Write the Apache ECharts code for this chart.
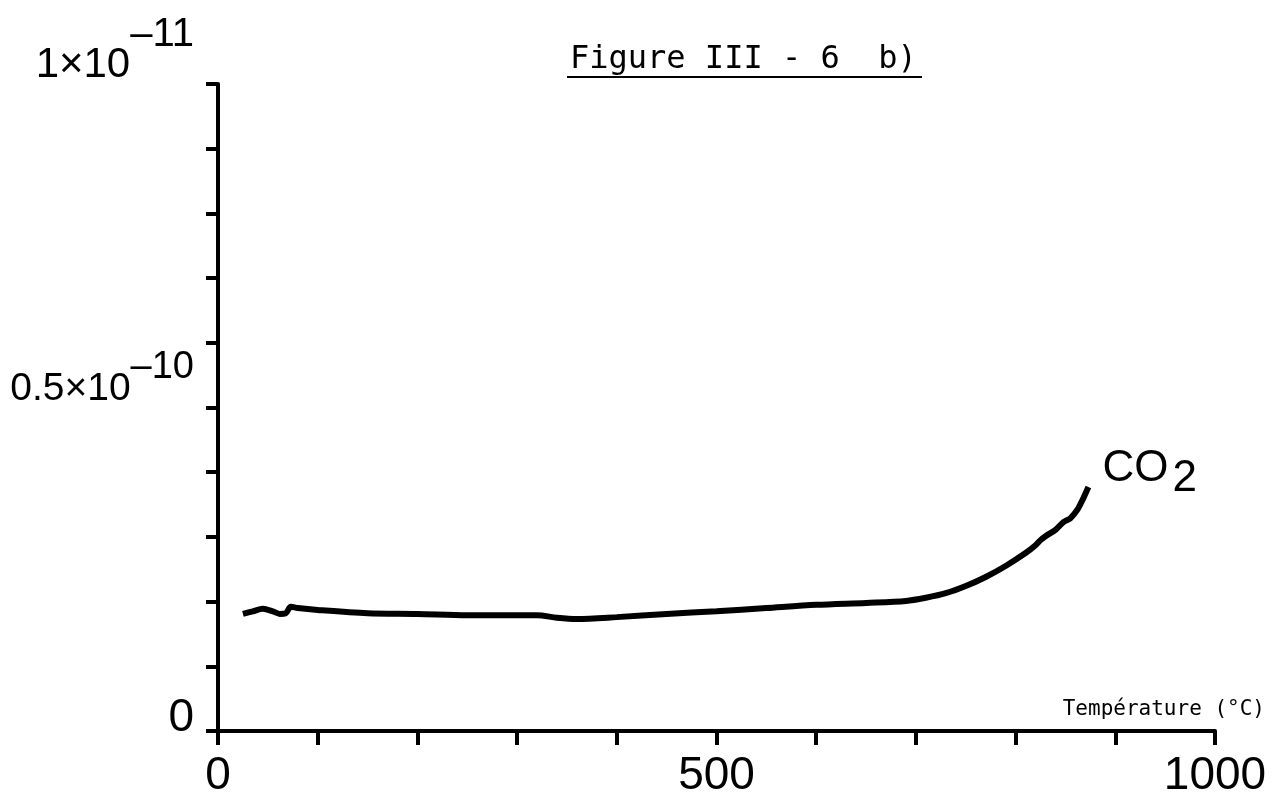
<!DOCTYPE html>
<html>
<head>
<meta charset="utf-8">
<script src="https://cdn.jsdelivr.net/npm/echarts@6/dist/echarts.min.js"></script>
<style>
  html, body { margin: 0; padding: 0; background: #fff; }
  #main { width: 1279px; height: 800px; }
</style>
</head>
<body>
<div id="main"></div>
<script>
// température (°C) et signal (unité 1e-10)
var temps = [25, 35, 45, 55, 62, 68, 73, 80, 100, 150, 200, 250, 300, 320, 340, 360, 400, 450, 500, 550, 600, 650, 690, 710, 730, 750, 770, 790, 810, 820, 825, 830, 840, 848, 855, 862, 868, 873];
var co2 = [0.181, 0.185, 0.189, 0.185, 0.181, 0.182, 0.192, 0.190, 0.187, 0.182, 0.181, 0.179, 0.179, 0.179, 0.175, 0.173, 0.176, 0.181, 0.185, 0.190, 0.195, 0.198, 0.201, 0.206, 0.213, 0.224, 0.238, 0.255, 0.275, 0.287, 0.295, 0.301, 0.311, 0.323, 0.329, 0.342, 0.360, 0.377];

var xTickLabels = { 0: "0", 500: "500", 1000: "1000" };
var yTickLabels = { "0": "{z|0}", "0.5": "{n|0.5×10}{t|–10}", "1": "{m|1×10}{s|–11}" };

var chart = echarts.init(document.getElementById("main"), null, { renderer: "canvas" });

var sans = "'Liberation Sans', Arial, sans-serif";
var mono = "'DejaVu Sans Mono', 'Liberation Mono', monospace";

var data = temps.map(function (t, i) { return [t, co2[i]]; });

var option = {
  backgroundColor: "#fff",
  animation: false,
  title: {
    text: "Figure III - 6  b)",
    left: 570,
    top: 44,
    padding: 0,
    textStyle: { fontFamily: mono, fontSize: 32, fontWeight: "normal", color: "#000" }
  },
  grid: { left: 218, right: 64, top: 84, bottom: 69, outerBoundsMode: "none", containLabel: false },
  xAxis: {
    type: "value",
    min: 0,
    max: 1000,
    interval: 100,
    name: "Température (°C)",
    nameLocation: "end",
    nameGap: 50,
    nameTextStyle: {
      fontFamily: mono, fontSize: 21, color: "#000",
      align: "right", verticalAlign: "bottom", padding: [0, 0, 11, 0]
    },
    axisLine: { lineStyle: { color: "#000", width: 4 } },
    axisTick: { show: true, length: 14, lineStyle: { color: "#000", width: 4 } },
    axisLabel: {
      margin: 22,
      fontFamily: sans,
      fontSize: 46,
      color: "#000",
      formatter: function (v) { return xTickLabels[v] || ""; }
    },
    splitLine: { show: false }
  },
  yAxis: {
    type: "value",
    min: 0,
    max: 1,
    interval: 0.1,
    axisLine: { show: true, lineStyle: { color: "#000", width: 4 } },
    axisTick: { show: true, length: 12, lineStyle: { color: "#000", width: 4 } },
    axisLabel: {
      margin: 24,
      verticalAlign: "middle",
      color: "#000",
      formatter: function (v) {
        var k = String(Math.round(v * 10) / 10);
        return yTickLabels[k] || "";
      },
      rich: {
        m: { fontFamily: sans, fontSize: 42, color: "#000", padding: [0, 0, 38, 0] },
        s: { fontFamily: sans, fontSize: 40, color: "#000", padding: [0, 0, 98, 0] },
        n: { fontFamily: sans, fontSize: 39, color: "#000", padding: [0, 0, 36, 0] },
        t: { fontFamily: sans, fontSize: 38, color: "#000", padding: [0, 0, 80, 0] },
        z: { fontFamily: sans, fontSize: 46, color: "#000", padding: [0, 0, 26, 0] }
      }
    },
    splitLine: { show: false }
  },
  graphic: [
    // soulignement du titre
    {
      type: "line",
      shape: { x1: 567, y1: 77, x2: 922, y2: 77 },
      style: { stroke: "#000", lineWidth: 2 }
    }
  ],
  series: [
    {
      name: "CO2",
      type: "line",
      data: data,
      smooth: 0.3,
      symbol: "none",
      lineStyle: { color: "#000", width: 6 },
      endLabel: {
        show: true,
        distance: 14,
        offset: [0, -18],
        formatter: "{a|CO}{b|2}",
        rich: {
          a: { fontFamily: sans, fontSize: 44, color: "#000" },
          b: { fontFamily: sans, fontSize: 44, color: "#000", padding: [20, 0, 0, 4] }
        }
      }
    }
  ]
};

chart.setOption(option);
</script>
</body>
</html>
